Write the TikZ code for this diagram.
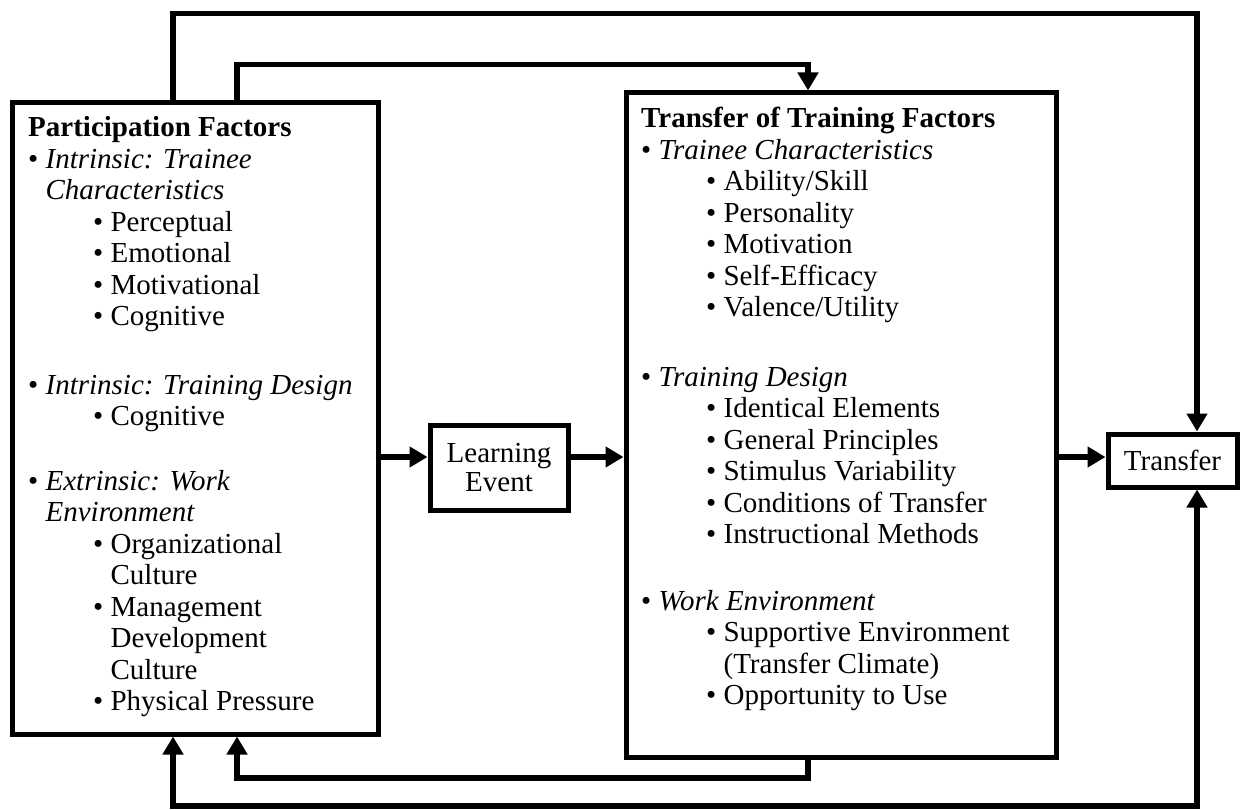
\documentclass[tikz,border=0pt]{standalone}
\usepackage{fontspec}
\setmainfont{Liberation Serif}
\usetikzlibrary{arrows.meta}
\newcommand{\mysub}{\hspace*{65pt}\textbullet\ }
\newcommand{\mysubi}{\hspace*{65pt}\hphantom{\textbullet\ }}
\newcommand{\myind}{\hphantom{\textbullet\ }}
\tikzset{
  box/.style={draw, line width=5pt, inner sep=0pt},
  conn/.style={line width=5.5pt, -{Triangle[width=20pt,length=18pt]}},
  conn2/.style={line width=5.5pt, {Triangle[width=20pt,length=18pt]}-{Triangle[width=20pt,length=18pt]}},
  txt/.style={inner sep=0pt, anchor=base west, font=\fontsize{29}{31.5}\selectfont},
  lbl/.style={box, align=center, font=\fontsize{29}{29}\selectfont}
}
\begin{document}
\begin{tikzpicture}[x=1pt,y=-1pt]
\useasboundingbox (0,0) rectangle (1241,810);
\fill[white] (0,0) rectangle (1241,810);
% boxes
\node[box, minimum width=366pt, minimum height=631pt] (lb) at (195,418.5) {};
\node[box, minimum width=430pt, minimum height=664pt] (rb) at (841,425) {};
\node[lbl, minimum width=138pt, minimum height=85pt] (le) at (499,467.5) {Learning\\Event};
\node[lbl, minimum width=129pt, minimum height=53pt] (tr) at (1172.5,460.5) {Transfer};
% texts
\node[txt] (lt) at (28,137) {\begin{tabular}[t]{@{}l@{}}
\textbf{Participation Factors}\\
\textbullet\ \textit{Intrinsic: Trainee}\\
\myind\textit{Characteristics}\\
\mysub Perceptual\\
\mysub Emotional\\
\mysub Motivational\\
\mysub Cognitive\\[37pt]
\textbullet\ \textit{Intrinsic: Training Design}\\
\mysub Cognitive\\[33pt]
\textbullet\ \textit{Extrinsic: Work}\\
\myind\textit{Environment}\\
\mysub Organizational\\
\mysubi Culture\\
\mysub Management\\
\mysubi Development\\
\mysubi Culture\\
\mysub Physical Pressure
\end{tabular}};
\node[txt] (rt) at (641,128) {\begin{tabular}[t]{@{}l@{}}
\textbf{Transfer of Training Factors}\\
\textbullet\ \textit{Trainee Characteristics}\\
\mysub Ability/Skill\\
\mysub Personality\\
\mysub Motivation\\
\mysub Self-Efficacy\\
\mysub Valence/Utility\\[38pt]
\textbullet\ \textit{Training Design}\\
\mysub Identical Elements\\
\mysub General Principles\\
\mysub Stimulus Variability\\
\mysub Conditions of Transfer\\
\mysub Instructional Methods\\[35pt]
\textbullet\ \textit{Work Environment}\\
\mysub Supportive Environment\\
\mysubi (Transfer Climate)\\
\mysub Opportunity to Use
\end{tabular}};
% helper coordinates
\coordinate (xa) at (173,0);
\coordinate (xb) at (237,0);
\coordinate (xc) at (808,0);
\coordinate (xd) at (1197,0);
\coordinate (ya) at (0,457);
\coordinate (yt1) at (0,13.5);
\coordinate (yt2) at (0,64.5);
\coordinate (yb2) at (0,778);
\coordinate (yb1) at (0,806);
% horizontal flow
\draw[conn] (lb.east |- ya) -- (le.west |- ya);
\draw[conn] (le.east |- ya) -- (rb.west |- ya);
\draw[conn] (rb.east |- ya) -- (tr.west |- ya);
% top connectors
\draw[conn] (lb.north -| xa) -- (xa |- yt1) -- (xd |- yt1) -- (tr.north -| xd);
\draw[conn] (lb.north -| xb) -- (xb |- yt2) -- (xc |- yt2) -- (rb.north -| xc);
% bottom connectors
\draw[conn] (rb.south -| xc) -- (xc |- yb2) -- (xb |- yb2) -- (lb.south -| xb);
\draw[conn2] (lb.south -| xa) -- (xa |- yb1) -- (xd |- yb1) -- (tr.south -| xd);
\end{tikzpicture}
\end{document}
